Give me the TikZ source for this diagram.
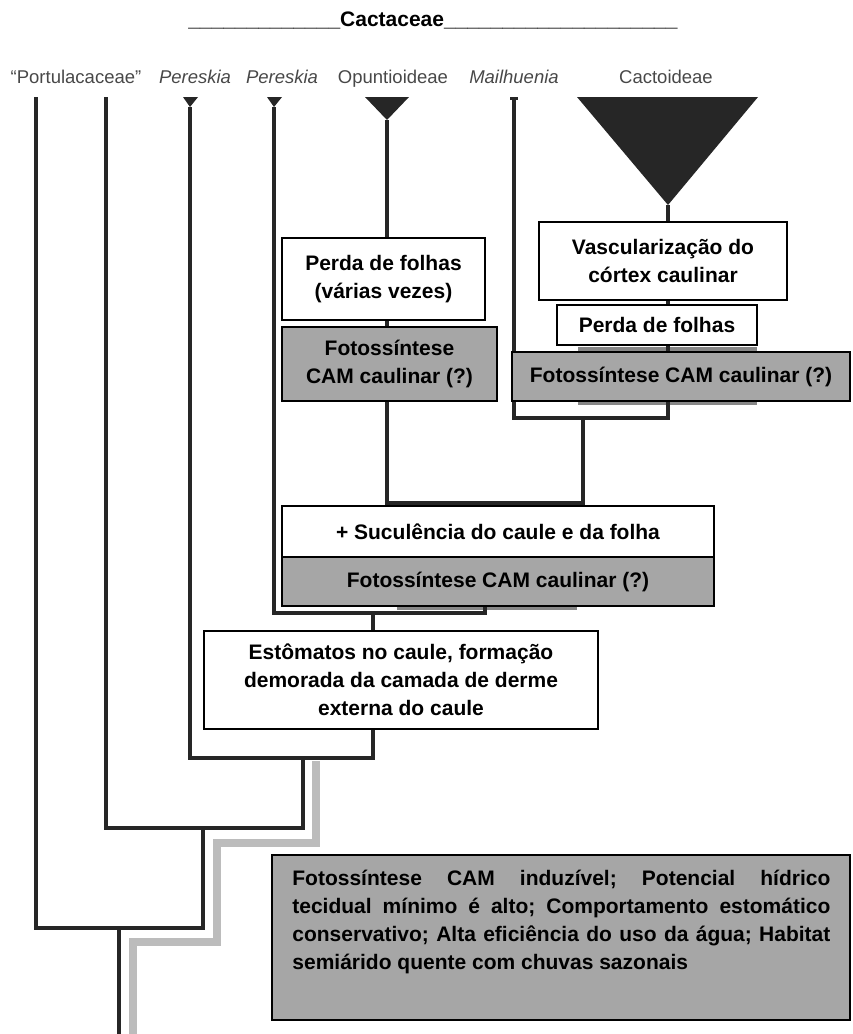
\documentclass[tikz,border=0pt]{standalone}
\usepackage{fontspec}
\setmainfont{Liberation Sans}
\usepackage{xcolor}
\usetikzlibrary{positioning}
\definecolor{branchcol}{RGB}{38,38,38}
\definecolor{camgray}{RGB}{166,166,166}
\definecolor{trailgray}{RGB}{188,188,188}
\definecolor{shadowgray}{RGB}{135,135,135}
\definecolor{taxoncol}{RGB}{72,72,72}
\tikzstyle{trait} = [rectangle, draw, fill=white, line width=0.6pt, inner sep=0pt, outer sep=0pt, align=center, font=\bfseries\fontsize{10.5}{14}\selectfont]
\tikzstyle{branch} = [draw=branchcol, line width=2pt]
\frenchspacing

\begin{document}
\begin{tikzpicture}[x=0.5pt, y=-0.5pt,
    trait/.style={rectangle, draw, fill=white, line width=0.6pt, inner sep=0pt, outer sep=0pt, align=center, font=\bfseries\fontsize{10.5}{14}\selectfont},
    camtrait/.style={trait, fill=camgray},
    taxon/.style={font=\fontsize{9.25}{11}\selectfont, text=taxoncol, inner sep=0pt, anchor=base},
    branch/.style={draw=branchcol, line width=2pt},
    trail/.style={draw=trailgray, line width=4pt},
    tip/.style={fill=branchcol},
    shadow/.style={fill=shadowgray}
]
    \useasboundingbox (0,0) rectangle (852,1034);

    % Tips of the tree
    \coordinate (tPort1) at (36,97);
    \coordinate (tPort2) at (106,97);
    \coordinate (tPer1) at (190,107);
    \coordinate (tPer2) at (274,107);
    \coordinate (tOpu) at (387,120);
    \coordinate (tMai) at (514,99);
    \coordinate (tCac) at (668,205);

    % Junctions
    \coordinate (j1) at (583,418);
    \coordinate (j2) at (485,503);
    \coordinate (j3) at (373,613);
    \coordinate (j4) at (303,758);
    \coordinate (j5) at (203,828);
    \coordinate (j6) at (119,928);
    \coordinate (root) at (119,1034);

    % CAM trail (grey)
    \coordinate (gTop) at (316,761);
    \coordinate (g1) at (217,843);
    \coordinate (g2) at (133,942);
    \coordinate (gRoot) at (133,1034);

    % Shadows behind boxes
    \fill[shadow] (578,347) rectangle (757,405);
    \fill[shadow] (397,555) rectangle (577,610);

    \draw[trail] (gTop) |- (g1) |- (g2) -- (gRoot);

    % Branches
    \draw[branch] (tPort1) |- (j6) -| (j5);
    \draw[branch] (tPort2) |- (j5) -| (j4);
    \draw[branch] (tPer1) |- (j4) -| (j3);
    \draw[branch] (tPer2) |- (j3) -| (j2);
    \draw[branch] (tOpu) |- (j2) -| (j1);
    \draw[branch] (tMai) |- (j1) -| (tCac);
    \draw[branch] (j6) -- (root);

    % Clade triangles
    \fill[tip] (183,97) -- (198,97) -- (tPer1) -- cycle;
    \fill[tip] (267,97) -- (282,97) -- (tPer2) -- cycle;
    \fill[tip] (365,97) -- (409,97) -- (tOpu) -- cycle;
    \fill[tip] (510,97) rectangle (518,100);
    \fill[tip] (577,97) -- (758,97) -- (tCac) -- cycle;

    % Character boxes - Opuntioideae
    \node[trait, minimum width=101.5pt, minimum height=41pt] (perdaO) at (383.5,279) {Perda de folhas\\(várias vezes)};
    \node[camtrait, minimum width=107.5pt, minimum height=37pt, anchor=north west] (camO) at (282,327) {Fotossíntese\\CAM caulinar (?)};

    % Character boxes - Cactoideae
    \node[trait, minimum width=124pt, minimum height=39pt] (vasc) at (663,261) {Vascularização do\\córtex caulinar};
    \node[trait, minimum width=100pt, minimum height=20pt] (perdaC) at (657,325) {Perda de folhas};
    \node[camtrait, minimum width=169pt, minimum height=24.5pt] (camC) at (681,376.5) {Fotossíntese CAM caulinar (?)};

    % Opuntioideae + Mailhuenia + Cactoideae
    \node[trait, minimum width=216pt, minimum height=25.5pt] (suc) at (498,531.5) {+ Suculência do caule e da folha};
    \node[camtrait, minimum width=216pt, minimum height=24.5pt, below=0pt of suc] (camS) {Fotossíntese CAM caulinar (?)};

    \node[trait, minimum width=197pt, minimum height=49pt] (estom) at (401,680) {Estômatos no caule, formação\\demorada da camada de derme\\externa do caule};

    % Ancestral traits
    \node[camtrait, minimum width=289pt, minimum height=82.5pt, anchor=north west] (habbox) at (272,855) {};
    \node[anchor=north west, text width=269pt, align=justify, inner sep=0pt, font=\bfseries\fontsize{10.5}{14}\selectfont] (habtext) at (292,870) {Fotossíntese CAM induzível; Potencial hídrico\linebreak tecidual mínimo é alto; Comportamento estomático\linebreak conservativo; Alta eficiência do uso da água; Habitat\linebreak semiárido quente com chuvas sazonais};

    % Taxa
    \node[taxon] (lPort) at (76,83) {“Portulacaceae”};
    \node[taxon] (lPer1) at (195,83) {\itshape Pereskia};
    \node[taxon] (lPer2) at (282,83) {\itshape Pereskia};
    \node[taxon] (lOpu) at (393,83) {Opuntioideae};
    \node[taxon] (lMai) at (514,83) {\itshape Mailhuenia};
    \node[taxon] (lCac) at (666,83) {Cactoideae};

    \node[anchor=base west, inner sep=0pt, font=\bfseries\fontsize{10.5}{12}\selectfont] (title) at (188,26) {\_\_\_\_\_\_\_\_\_\_\_\_\_Cactaceae\_\_\_\_\_\_\_\_\_\_\_\_\_\_\_\_\_\_\_\_};
\end{tikzpicture}
\end{document}
